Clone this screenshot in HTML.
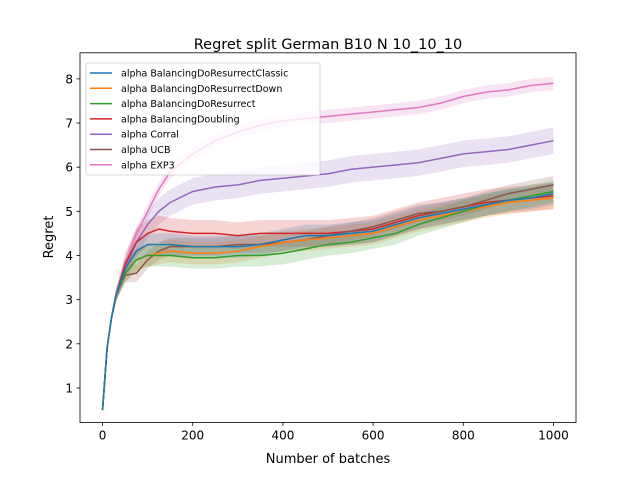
<!DOCTYPE html>
<html><head><meta charset="utf-8"><style>
body{margin:0;background:#fff;font-family:"Liberation Sans","DejaVu Sans",sans-serif}
svg text{font-family:"DejaVu Sans","Liberation Sans",sans-serif}
</style></head><body>
<svg id="c" width="640" height="480" xmlns="http://www.w3.org/2000/svg"></svg>
<script>
const xs=[0,10,20,30,50,75,100,125,150,200,250,300,350,400,450,500,550,600,650,700,750,800,850,900,950,1000];
const seriesNames=["alpha BalancingDoResurrectClassic","alpha BalancingDoResurrectDown","alpha BalancingDoResurrect","alpha BalancingDoubling","alpha Corral","alpha UCB","alpha EXP3"];
const classic=[0.5,1.9,2.6,3.1,3.7,4.1,4.25,4.25,4.25,4.2,4.2,4.2,4.25,4.35,4.45,4.45,4.5,4.55,4.7,4.85,4.95,5.05,5.15,5.25,5.3,5.4];
const down=[0.5,1.9,2.6,3.1,3.6,3.9,4.0,4.05,4.1,4.05,4.05,4.1,4.2,4.3,4.35,4.4,4.45,4.5,4.65,4.8,4.9,5.0,5.1,5.2,5.25,5.3];
const resurrect=[0.5,1.9,2.6,3.1,3.6,3.9,4.0,4.0,4.0,3.95,3.95,4.0,4.0,4.05,4.15,4.25,4.3,4.4,4.5,4.7,4.85,5.0,5.15,5.25,5.35,5.45];
const doubling=[0.5,1.9,2.6,3.1,3.8,4.3,4.5,4.6,4.55,4.5,4.5,4.45,4.5,4.5,4.5,4.5,4.55,4.6,4.75,4.9,5.0,5.1,5.2,5.25,5.3,5.35];
const corral=[0.5,1.9,2.6,3.1,3.7,4.3,4.7,5.0,5.2,5.45,5.55,5.6,5.7,5.75,5.8,5.85,5.95,6.0,6.05,6.1,6.2,6.3,6.35,6.4,6.5,6.6];
const ucb=[0.5,1.9,2.6,3.1,3.55,3.6,3.9,4.1,4.2,4.2,4.2,4.25,4.25,4.3,4.35,4.45,4.55,4.65,4.8,4.95,5.0,5.1,5.25,5.4,5.5,5.6];
const exp3=[0.5,1.9,2.6,3.1,3.8,4.5,5.0,5.5,5.9,6.3,6.6,6.8,6.95,7.05,7.1,7.15,7.2,7.25,7.3,7.35,7.45,7.6,7.7,7.75,7.85,7.9];
const bands=[0.25,0.25,0.25,0.3,0.3,0.2,0.15];
const xTicks=[0,200,400,600,800,1000];
const yTicks=[1,2,3,4,5,6,7,8];
const colors=["#1f77b4","#ff7f0e","#2ca02c","#d62728","#9467bd","#8c564b","#e377c2"];
const L=80,R=576,T=52.8,B=422.4,X0=-50,X1=1050,Y0=0.22,Y1=8.59;
const sx=v=>L+(v-X0)/(X1-X0)*(R-L), sy=v=>B-(v-Y0)/(Y1-Y0)*(B-T);
const svg=document.getElementById('c');const NS="http://www.w3.org/2000/svg";
function mk(t,a,p){const e=document.createElementNS(NS,t);for(const k in a)e.setAttribute(k,a[k]);(p||svg).appendChild(e);return e;}
const all=[classic,down,resurrect,doubling,corral,ucb,exp3];
const order=[6,4,3,5,1,2,0];
order.forEach(i=>{const d=all[i];const bw=bands[i];
 let up=xs.map((x,j)=>sx(x)+","+sy(d[j]+bw*Math.min(1,x/60))).join(" ");
 let lo=xs.map((x,j)=>sx(x)+","+sy(d[j]-bw*Math.min(1,x/60))).reverse().join(" ");
 const b=mk('polygon',{points:up+" "+lo,fill:colors[i],'fill-opacity':0.2});
 
 
});
order.forEach(i=>{const d=all[i];
 const l=mk('polyline',{points:xs.map((x,j)=>sx(x)+","+sy(d[j])).join(" "),fill:'none',stroke:colors[i],'stroke-width':1.5});
 
 
});
const fr=mk('rect',{x:L,y:T,width:R-L,height:B-T,fill:'none',stroke:'#000','stroke-width':0.8});

xTicks.forEach(v=>{mk('line',{x1:sx(v),x2:sx(v),y1:B,y2:B+3.5,stroke:'#000','stroke-width':0.8});
 const t=mk('text',{x:sx(v),y:B+17,'font-size':12,'text-anchor':'middle'});t.textContent=v;
 });
yTicks.forEach(v=>{mk('line',{x1:L,x2:L-3.5,y1:sy(v),y2:sy(v),stroke:'#000','stroke-width':0.8});
 const t=mk('text',{x:L-7,y:sy(v)+4.5,'font-size':12,'text-anchor':'end'});t.textContent=v;
 });
let t=mk('text',{x:328,y:467,'font-size':13,'text-anchor':'middle'});t.textContent="Number of batches";

t.setAttribute('y','463');
t=mk('text',{x:0,y:0,'font-size':13,'text-anchor':'middle',transform:'translate(53,237) rotate(-90)'});t.textContent="Regret";

t=mk('text',{x:328,y:49,'font-size':14.5,'text-anchor':'middle'});t.textContent="Regret split German B10 N 10_10_10";

const lg=mk('g',{});
mk('rect',{x:86,y:63,width:234,height:112,rx:2,fill:'#fff','fill-opacity':0.8,stroke:'#ccc','stroke-width':0.8},lg);
seriesNames.forEach((n,i)=>{const y=73+i*15.3;
 mk('line',{x1:90,x2:112,y1:y,y2:y,stroke:colors[i],'stroke-width':1.5},lg);
 const e=mk('text',{x:121,y:y+3.5,'font-size':9.5},lg);e.textContent=n;
 });
</script>
</body></html>
